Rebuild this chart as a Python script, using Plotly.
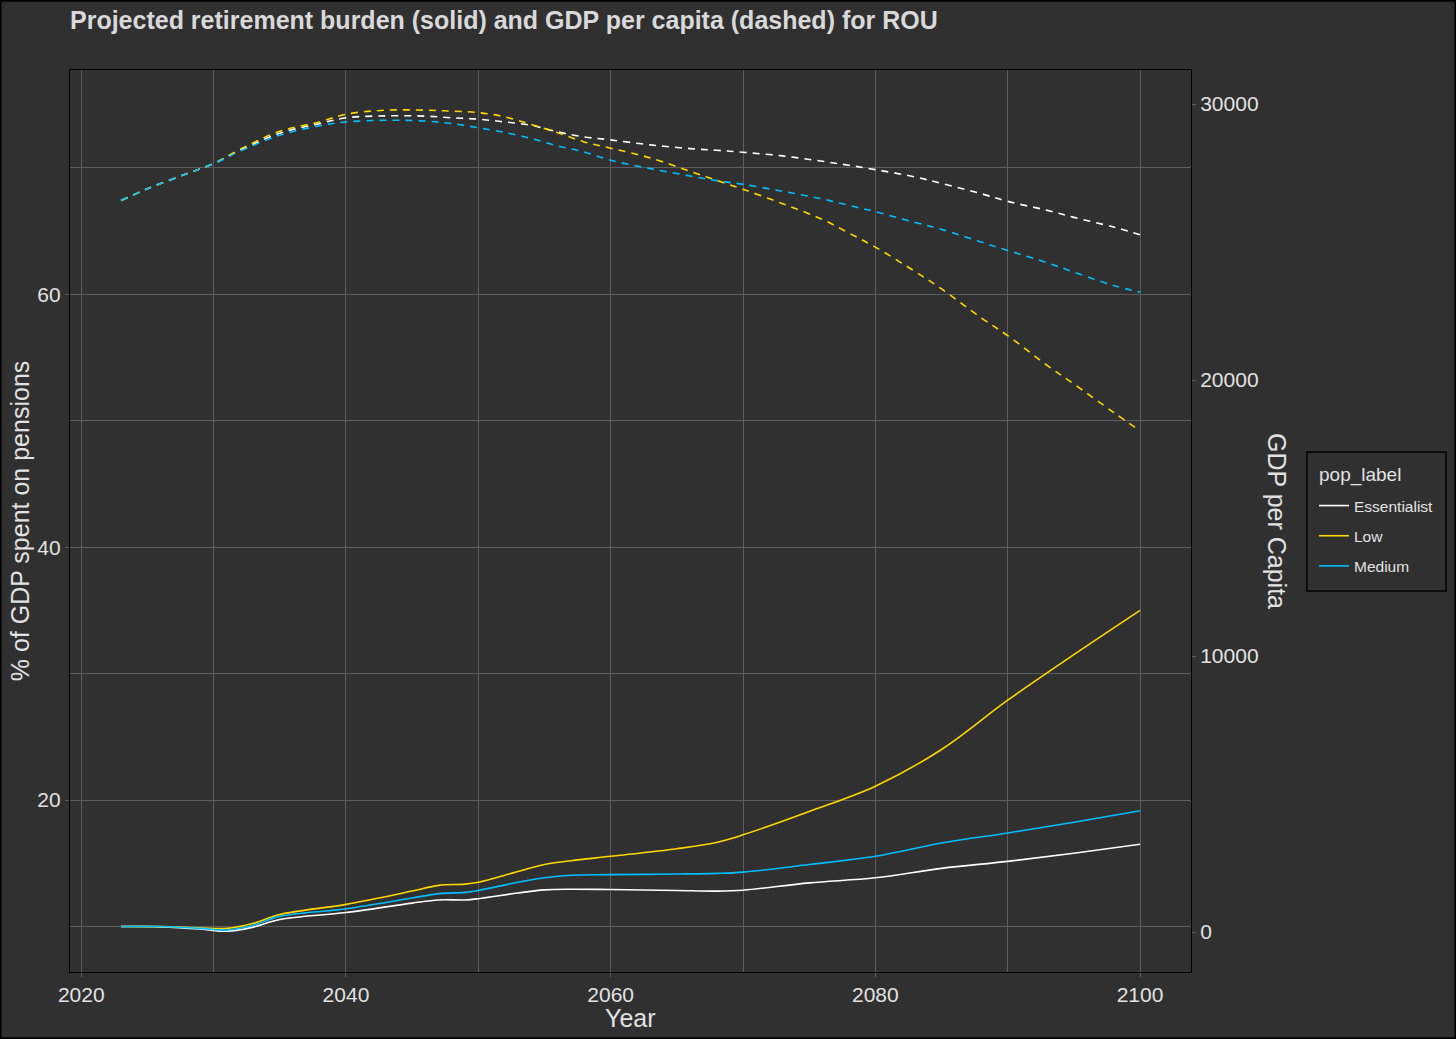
import plotly.graph_objects as go

# pension burden, % of GDP (left axis)
years_pension = [2023, 2026, 2029, 2031, 2033, 2035, 2040, 2045, 2047, 2049, 2050, 2053,
                 2055, 2057, 2060, 2065, 2068, 2070, 2075, 2080, 2085, 2090, 2095, 2100]
pension_essentialist = [10.0, 9.97, 9.8, 9.62, 9.95, 10.55, 11.1, 11.85, 12.1, 12.1, 12.2, 12.65,
                        12.9, 12.95, 12.92, 12.85, 12.8, 12.87, 13.45, 13.85, 14.6, 15.15, 15.8, 16.5]
pension_low = [10.0, 10.0, 9.9, 9.85, 10.25, 10.95, 11.75, 12.8, 13.25, 13.35, 13.5, 14.35,
               14.9, 15.2, 15.55, 16.15, 16.65, 17.25, 19.1, 21.1, 24.0, 27.9, 31.5, 35.0]
pension_medium = [10.0, 10.0, 9.85, 9.72, 10.1, 10.8, 11.4, 12.25, 12.6, 12.7, 12.85, 13.5,
                  13.85, 14.05, 14.1, 14.15, 14.2, 14.3, 14.9, 15.55, 16.6, 17.4, 18.25, 19.15]

# GDP per capita (right axis)
years_gdp = [2023, 2025, 2028, 2030, 2032, 2035, 2038, 2040, 2043, 2046, 2048, 2050, 2052,
             2054, 2056, 2058, 2060, 2063, 2066, 2068, 2070, 2073, 2076, 2078, 2080, 2083,
             2085, 2088, 2090, 2093, 2095, 2098, 2100]
gdp_essentialist = [26500, 26930, 27480, 27840, 28320, 28940, 29290, 29500, 29570, 29560, 29500,
                    29450, 29350, 29230, 28990, 28808, 28700, 28518, 28385, 28323, 28250, 28119,
                    27924, 27779, 27623, 27357, 27126, 26751, 26472, 26146, 25892, 25542, 25263]
gdp_low = [26500, 26930, 27480, 27840, 28360, 29010, 29350, 29630, 29775, 29775, 29740,
           29690, 29535, 29256, 28960, 28627, 28400, 28047, 27561, 27234, 26908, 26388,
           25819, 25324, 24816, 23931, 23303, 22250, 21609, 20520, 19855, 18827, 18160]
gdp_medium = [26500, 26930, 27480, 27840, 28290, 28870, 29210, 29350, 29410, 29380, 29290,
              29140, 28970, 28750, 28480, 28264, 27960, 27659, 27393, 27223, 27090, 26836,
              26558, 26327, 26098, 25710, 25457, 24997, 24694, 24247, 23909, 23423, 23183]

labels = ["Essentialist", "Low", "Medium"]
colors = ["#ffffff", "#ffd700", "#00bfff"]
pension = [pension_essentialist, pension_low, pension_medium]
gdp = [gdp_essentialist, gdp_low, gdp_medium]

BG = "#303030"
GRID = "#5c5c5c"
TXT = "#e2e2e2"
FONT = "Liberation Sans, Arial, sans-serif"

W, H = 1456, 1039
ML, MR, MT, MB = 70, 265, 70, 67
PW, PH = W - ML - MR, H - MT - MB


def px_x(x):
    return (x - ML) / PW


def px_y(y):
    return (H - MB - y) / PH


fig = go.Figure()
for lab, col, p, g in zip(labels, colors, pension, gdp):
    fig.add_trace(go.Scatter(
        x=years_pension, y=p, mode="lines", name=lab, legendgroup=lab,
        line=dict(color=col, width=1.6, shape="spline"),
    ))
    fig.add_trace(go.Scatter(
        x=years_gdp, y=g, mode="lines", name=lab, legendgroup=lab, showlegend=False,
        yaxis="y2", line=dict(color=col, width=1.6, dash="7px,6px", shape="spline"),
    ))

axis_common = dict(
    showgrid=True, gridcolor=GRID, gridwidth=1,
    ticks="outside", ticklen=4, tickcolor=GRID,
    tickfont=dict(size=21, color=TXT, family=FONT),
    showline=True, linecolor="#000000", linewidth=1.2, mirror=True,
    zeroline=False,
)

fig.update_layout(
    width=W, height=H,
    margin=dict(l=ML, r=MR, t=MT, b=MB),
    paper_bgcolor=BG, plot_bgcolor=BG,
    font=dict(family=FONT, color=TXT),
    title=dict(
        text="<b>Projected retirement burden (solid) and GDP per capita (dashed) for ROU</b>",
        x=0, xref="paper", xanchor="left", y=1 - 20 / H, yref="container", yanchor="middle",
        font=dict(size=25, color="#d9d9d9", family=FONT),
    ),
    xaxis=dict(
        **axis_common,
        range=[2019.15, 2103.85], tickvals=[2020, 2040, 2060, 2080, 2100],
        minor=dict(tickvals=[2030, 2050, 2070, 2090], showgrid=True, gridcolor=GRID, gridwidth=1, ticks=""),
    ),
    yaxis=dict(
        **axis_common,
        range=[6.4, 77.75], tickvals=[20, 40, 60],
        minor=dict(tickvals=[10, 30, 50, 70], showgrid=True, gridcolor=GRID, gridwidth=1, ticks=""),
        title=dict(text="% of GDP spent on pensions", font=dict(size=25, color=TXT, family=FONT), standoff=0),
    ),
    yaxis2=dict(
        overlaying="y", side="right", range=[-1449, 31232],
        tickvals=[0, 10000, 20000, 30000], tickformat="d",
        showgrid=False, zeroline=False, showline=False,
        ticks="outside", ticklen=4, tickcolor=GRID,
        tickfont=dict(size=21, color=TXT, family=FONT),
    ),
    legend=dict(
        font=dict(size=15.5, color=TXT, family=FONT),
        x=px_x(1314), xanchor="left",
        y=px_y(489), yanchor="top",
        bgcolor="rgba(0,0,0,0)", borderwidth=0,
        itemwidth=30, tracegroupgap=7,
    ),
    annotations=[
        dict(
            text="Year", showarrow=False,
            xref="paper", yref="paper", x=0.5, y=px_y(1018),
            xanchor="center", yanchor="middle",
            font=dict(size=25, color=TXT, family=FONT),
        ),
        dict(
            text="GDP per Capita", textangle=90, showarrow=False,
            xref="paper", yref="paper", x=px_x(1277), y=0.5,
            xanchor="center", yanchor="middle",
            font=dict(size=25, color=TXT, family=FONT),
        ),
        dict(
            text="pop_label", showarrow=False,
            xref="paper", yref="paper", x=px_x(1317), y=px_y(475),
            xanchor="left", yanchor="middle",
            font=dict(size=19, color=TXT, family=FONT),
        ),
    ],
    shapes=[
        dict(
            type="rect", xref="paper", yref="paper", layer="above",
            x0=-ML / PW + 0.0005, x1=(W - ML) / PW - 0.0005,
            y0=-MB / PH + 0.0008, y1=(H - MB) / PH - 0.0008,
            line=dict(color="#000000", width=2),
        ),
        dict(
            type="rect", xref="paper", yref="paper", layer="above",
            x0=px_x(1307), x1=px_x(1446), y0=px_y(591), y1=px_y(452),
            line=dict(color="#000000", width=1.5),
        ),
    ],
)

# drop the default page margin so the figure sits at the window's corner
fig.write_html("out.html", config={"displayModeBar": False},
               post_script="document.body.style.margin='0';")
